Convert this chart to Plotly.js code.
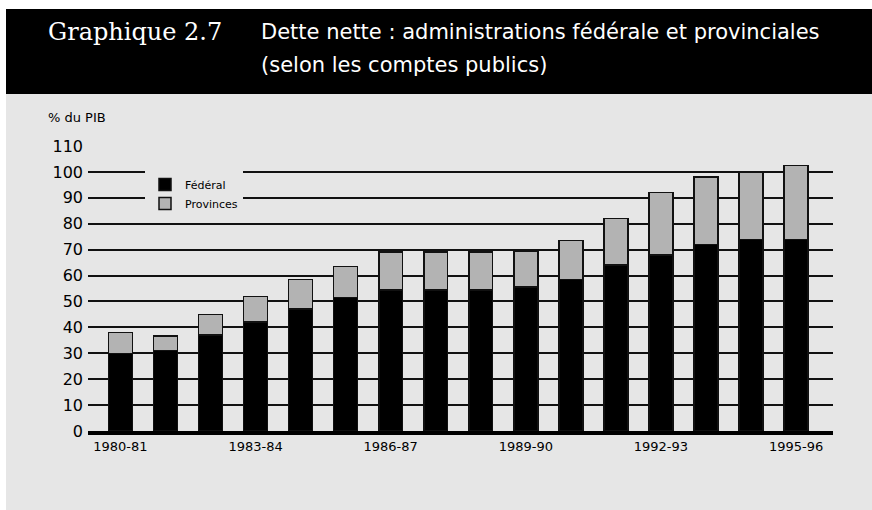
<!DOCTYPE html>
<html>
<head>
<meta charset="utf-8">
<script src="https://cdn.plot.ly/plotly-3.0.1.min.js"></script>
<style>
  html, body { margin: 0; padding: 0; background: #ffffff; }
  #chart { width: 872px; height: 510px; }
</style>
</head>
<body>
<div id="chart"></div>
<script>
// Data (% du PIB)
const years = ['1980-81','1981-82','1982-83','1983-84','1984-85','1985-86','1986-87','1987-88',
               '1988-89','1989-90','1990-91','1991-92','1992-93','1993-94','1994-95','1995-96'];
const federal = [30, 31, 37, 42, 47, 51.5, 54.5, 54.5, 54.5, 55.5, 58.5, 64, 68, 72, 74, 74];
const provinces = [8, 5.7, 8, 10, 11.5, 12, 14.5, 14.5, 14.5, 14, 15, 18, 24, 26, 26, 28.5];
const tickYears = ['1980-81','1983-84','1986-87','1989-90','1992-93','1995-96'];
const yTicks = [0,10,20,30,40,50,60,70,80,90,100,110];

const BG = '#e6e6e6';
const traces = [
  { type: 'bar', name: 'Fédéral', legendgroup: 'f', x: years, y: federal,
    marker: { color: '#000000', line: { color: '#111111', width: 1.5 } }, width: 0.53 },
  { type: 'bar', name: 'Provinces', legendgroup: 'p', x: years, y: provinces,
    marker: { color: '#b3b3b3', line: { color: '#111111', width: 1.5 } }, width: 0.53 }
];

const L = 88, R = 39, T = 146, B = 79, W = 872, H = 510;
const pw = W - L - R, ph = H - T - B;
const px = v => (v - L) / pw;
const py = v => (H - B - v) / ph;

const layout = {
  width: W, height: H,
  margin: { l: L, r: R, t: T, b: B, pad: 0 },
  paper_bgcolor: BG, plot_bgcolor: BG,
  barmode: 'stack',
  showlegend: true,
  legend: {
    x: px(145), y: py(170), xanchor: 'left', yanchor: 'top',
    bgcolor: BG, traceorder: 'normal',
    font: { family: 'DejaVu Sans', size: 11, color: '#000' },
    itemwidth: 30, tracegroupgap: 6
  },
  font: { family: 'DejaVu Sans', color: '#000' },
  xaxis: {
    type: 'category', range: [-0.72, 15.82],
    tickvals: tickYears, ticktext: tickYears,
    tickfont: { family: 'DejaVu Sans', size: 13, color: '#000' },
    showgrid: false, showline: true, linecolor: '#000', linewidth: 4,
    ticks: '', fixedrange: true
  },
  yaxis: {
    range: [0, 110], tickvals: yTicks,
    tickfont: { family: 'DejaVu Sans', size: 16, color: '#000' },
    showgrid: true, gridcolor: '#111111', gridwidth: 2,
    zeroline: false, showline: false, ticks: '', ticklabelstandoff: 4,
    fixedrange: true
  },
  shapes: [
    { type: 'rect', xref: 'paper', yref: 'paper',
      x0: px(6), x1: px(872), y0: py(94), y1: py(9),
      fillcolor: '#000000', line: { width: 0 }, layer: 'below' },
    { type: 'rect', xref: 'paper', yref: 'paper',
      x0: px(0), x1: px(6), y0: py(510), y1: py(0),
      fillcolor: '#ffffff', line: { width: 0 }, layer: 'below' },
    { type: 'rect', xref: 'paper', yref: 'paper',
      x0: px(0), x1: px(872), y0: py(9), y1: py(0),
      fillcolor: '#ffffff', line: { width: 0 }, layer: 'below' }
  ],
  annotations: [
    { text: 'Graphique 2.7', xref: 'paper', yref: 'paper', x: px(46), y: py(32),
      xanchor: 'left', yanchor: 'middle', showarrow: false,
      font: { family: 'DejaVu Serif', size: 24, color: '#ffffff' } },
    { text: 'Dette nette : administrations fédérale et provinciales', xref: 'paper', yref: 'paper',
      x: px(259), y: py(32), xanchor: 'left', yanchor: 'middle', showarrow: false,
      font: { family: 'DejaVu Sans', size: 21, color: '#ffffff' } },
    { text: '(selon les comptes publics)', xref: 'paper', yref: 'paper',
      x: px(259), y: py(65), xanchor: 'left', yanchor: 'middle', showarrow: false,
      font: { family: 'DejaVu Sans', size: 21, color: '#ffffff' } },
    { text: '% du PIB', xref: 'paper', yref: 'paper', x: px(46), y: py(118),
      xanchor: 'left', yanchor: 'middle', showarrow: false,
      font: { family: 'DejaVu Sans', size: 13, color: '#000' } }
  ]
};

Plotly.newPlot('chart', traces, layout, { displayModeBar: false, staticPlot: true });
</script>
</body>
</html>
